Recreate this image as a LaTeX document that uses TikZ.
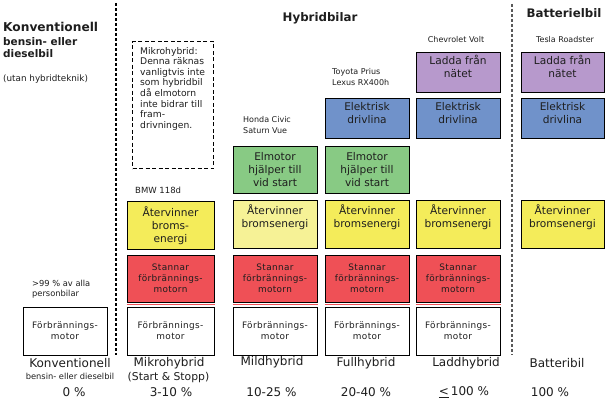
\documentclass[tikz,border=0pt]{standalone}
\usepackage{fontspec}
\setmainfont{DejaVu Sans}
\newfontfamily\spaced[LetterSpace=4]{DejaVu Sans}
\definecolor{cyel}{RGB}{244,236,90}
\definecolor{clyel}{RGB}{246,242,150}
\definecolor{cred}{RGB}{239,80,86}
\definecolor{cgreen}{RGB}{136,202,132}
\definecolor{cblue}{RGB}{112,146,202}
\definecolor{cpurple}{RGB}{183,153,204}
\definecolor{ctext}{RGB}{30,30,30}
\begin{document}
\begin{tikzpicture}[x=1pt,y=-1pt,
  cbox/.style={draw=black, line width=1pt, minimum width=84pt, minimum height=47pt, align=center, inner sep=0pt, text=ctext, font=\fontsize{10.6}{13}\selectfont},
  shortbox/.style={cbox, minimum height=40pt},
  smallbox/.style={cbox, font=\spaced\fontsize{8.9}{11}\selectfont},
  ybox/.style={cbox, fill=cyel},
  lybox/.style={cbox, fill=clyel},
  gbox/.style={cbox, fill=cgreen},
  bbox/.style={shortbox, fill=cblue},
  pbox/.style={shortbox, fill=cpurple},
  rbox/.style={smallbox, fill=cred},
  fbox/.style={smallbox, fill=white, minimum height=48pt},
  redline/.style={draw=cred, line width=0.8pt},
  lbl/.style={inner sep=0pt, text=ctext, font=\fontsize{8}{11}\selectfont},
  bottom/.style={inner sep=0pt, text=ctext, font=\fontsize{12}{14}\selectfont},
  head/.style={inner sep=0pt, text=ctext, font=\bfseries\fontsize{11.8}{14}\selectfont},
  divider/.style={line width=1.3pt, dash pattern=on 3pt off 2pt}
]
\useasboundingbox[fill=white] (0,0) rectangle (607,403);

% dividers
\coordinate (d1t) at (116,3);
\coordinate (d1b) at (116,355);
\coordinate (d2t) at (512,4);
\coordinate (d2b) at (512,355);
\draw[divider, black] (d1t) -- (d1b);
\draw[divider, black!65] (d2t) -- (d2b);

% headers
\node[inner sep=0pt, anchor=west, text=ctext, font=\bfseries\fontsize{12.2}{14}\selectfont] (hk1) at (3,27) {Konventionell};
\node[inner sep=0pt, anchor=west, text=ctext, font=\bfseries\fontsize{10.5}{12}\selectfont] (hk2) at (3,42) {bensin- eller};
\node[inner sep=0pt, anchor=west, text=ctext, font=\bfseries\fontsize{10.5}{12}\selectfont] (hk3) at (3,54) {dieselbil};
\node[inner sep=0pt, anchor=west, text=ctext, font=\fontsize{8.8}{11}\selectfont] (hk4) at (3,79) {(utan hybridteknik)};
\node[head] (hh) at (320,18) {Hybridbilar};
\node[head] (hb) at (564,13) {Batterielbil};

% car labels
\node[lbl] (chev) at (456,40) {Chevrolet Volt};
\node[lbl] (tesla) at (565,40) {Tesla Roadster};
\node[lbl, anchor=west, align=left] (toyota) at (332,77.5) {Toyota Prius\\Lexus RX400h};
\node[lbl, anchor=west, align=left] (honda) at (243,125.5) {Honda Civic\\Saturn Vue};
\node[lbl, anchor=west, font=\fontsize{8.5}{11}\selectfont] (bmw) at (135,190) {BMW 118d};
\node[lbl, anchor=west, align=left, font=\fontsize{8.3}{10.5}\selectfont] (pct99) at (32,289) {>99 \% av alla\\personbilar};

% micro hybrid dashed note
\node[draw=black, line width=1.1pt, dash pattern=on 4pt off 2.5pt, anchor=north west, minimum width=81pt, minimum height=127pt, inner sep=0pt] (mikrobox) at (132,41) {};
\node[inner sep=0pt, anchor=north west, align=left, text=ctext, font=\fontsize{9.2}{10.6}\selectfont] (mikrotext) at ([xshift=8pt,yshift=-6pt]mikrobox.north west)
 {Mikrohybrid:\\Denna räknas\\vanligtvis inte\\som hybridbil\\då elmotorn\\inte bidrar till\\fram-\\drivningen.};

% column 1
\node[fbox] (f1) at (65,331) {Förbrännings-\\motor};

% column 2
\node[ybox, minimum width=87pt] (y2) at (170.5,225.5) {Återvinner\\broms-\\energi};
\node[rbox, minimum width=87pt] (r2) at (170.5,278.5) {Stannar\\förbrännings-\\motorn};
\node[fbox, minimum width=87pt] (f2) at (170.5,331) {Förbrännings-\\motor};

% column 3
\node[gbox] (g3) at (275,170) {Elmotor\\hjälper till\\vid start};
\node[lybox] (y3) at (275,224.5) {Återvinner\\bromsenergi\\[3pt]};
\node[rbox] (r3) at (275,278.5) {Stannar\\förbrännings-\\motorn};
\node[fbox] (f3) at (275,331) {Förbrännings-\\motor};

% column 4
\node[bbox] (b4) at (367,119) {Elektrisk\\drivlina\\[-1pt]};
\node[gbox] (g4) at (367,170) {Elmotor\\hjälper till\\vid start};
\node[ybox] (y4) at (367,224.5) {Återvinner\\bromsenergi\\[3pt]};
\node[rbox] (r4) at (367,278.5) {Stannar\\förbrännings-\\motorn};
\node[fbox] (f4) at (367,331) {Förbrännings-\\motor};

% column 5
\node[pbox] (p5) at (458,72.5) {Ladda från\\nätet\\[-1pt]};
\node[bbox] (b5) at (458,119) {Elektrisk\\drivlina\\[-1pt]};
\node[ybox] (y5) at (458,224.5) {Återvinner\\bromsenergi\\[3pt]};
\node[rbox] (r5) at (458,278.5) {Stannar\\förbrännings-\\motorn};
\node[fbox] (f5) at (458,331) {Förbrännings-\\motor};

% column 6
\node[pbox, minimum width=83pt] (p6) at (562.5,72.5) {Ladda från\\nätet\\[-1pt]};
\node[bbox, minimum width=83pt] (b6) at (562.5,119) {Elektrisk\\drivlina\\[-1pt]};
\node[ybox, minimum width=83pt] (y6) at (562.5,224.5) {Återvinner\\bromsenergi\\[3pt]};

% red under-lines
\foreach \r in {r2,r3,r4,r5}{
  \draw[redline] ([yshift=-1.6pt]\r.south west) -- ([yshift=-1.6pt]\r.south east);
}

% bottom labels
\node[bottom] (k1) at (70,363) {Konventionell};
\node[bottom, font=\fontsize{8.3}{10}\selectfont] (k2) at (70,376.5) {bensin- eller dieselbil};
\node[bottom] (k3) at (74,392) {0 \%};
\node[bottom] (m1) at (169,363) {Mikrohybrid};
\node[bottom, font=\fontsize{10.8}{13}\selectfont] (m2) at (168.5,377.5) {(Start \& Stopp)};
\node[bottom] (m3) at (171,392) {3-10 \%};
\node[bottom] (l1) at (272,362) {Mildhybrid};
\node[bottom] (l3) at (271.5,392) {10-25 \%};
\node[bottom] (u1) at (366,363) {Fullhybrid};
\node[bottom] (u3) at (366,392) {20-40 \%};
\node[bottom] (a1) at (466,363) {Laddhybrid};
\node[bottom] (a3) at (464,392) {\underline{<}\,100 \%};
\node[bottom] (t1) at (557,363) {Batteribil};
\node[bottom] (t3) at (550,392) {100 \%};
\end{tikzpicture}
\end{document}
